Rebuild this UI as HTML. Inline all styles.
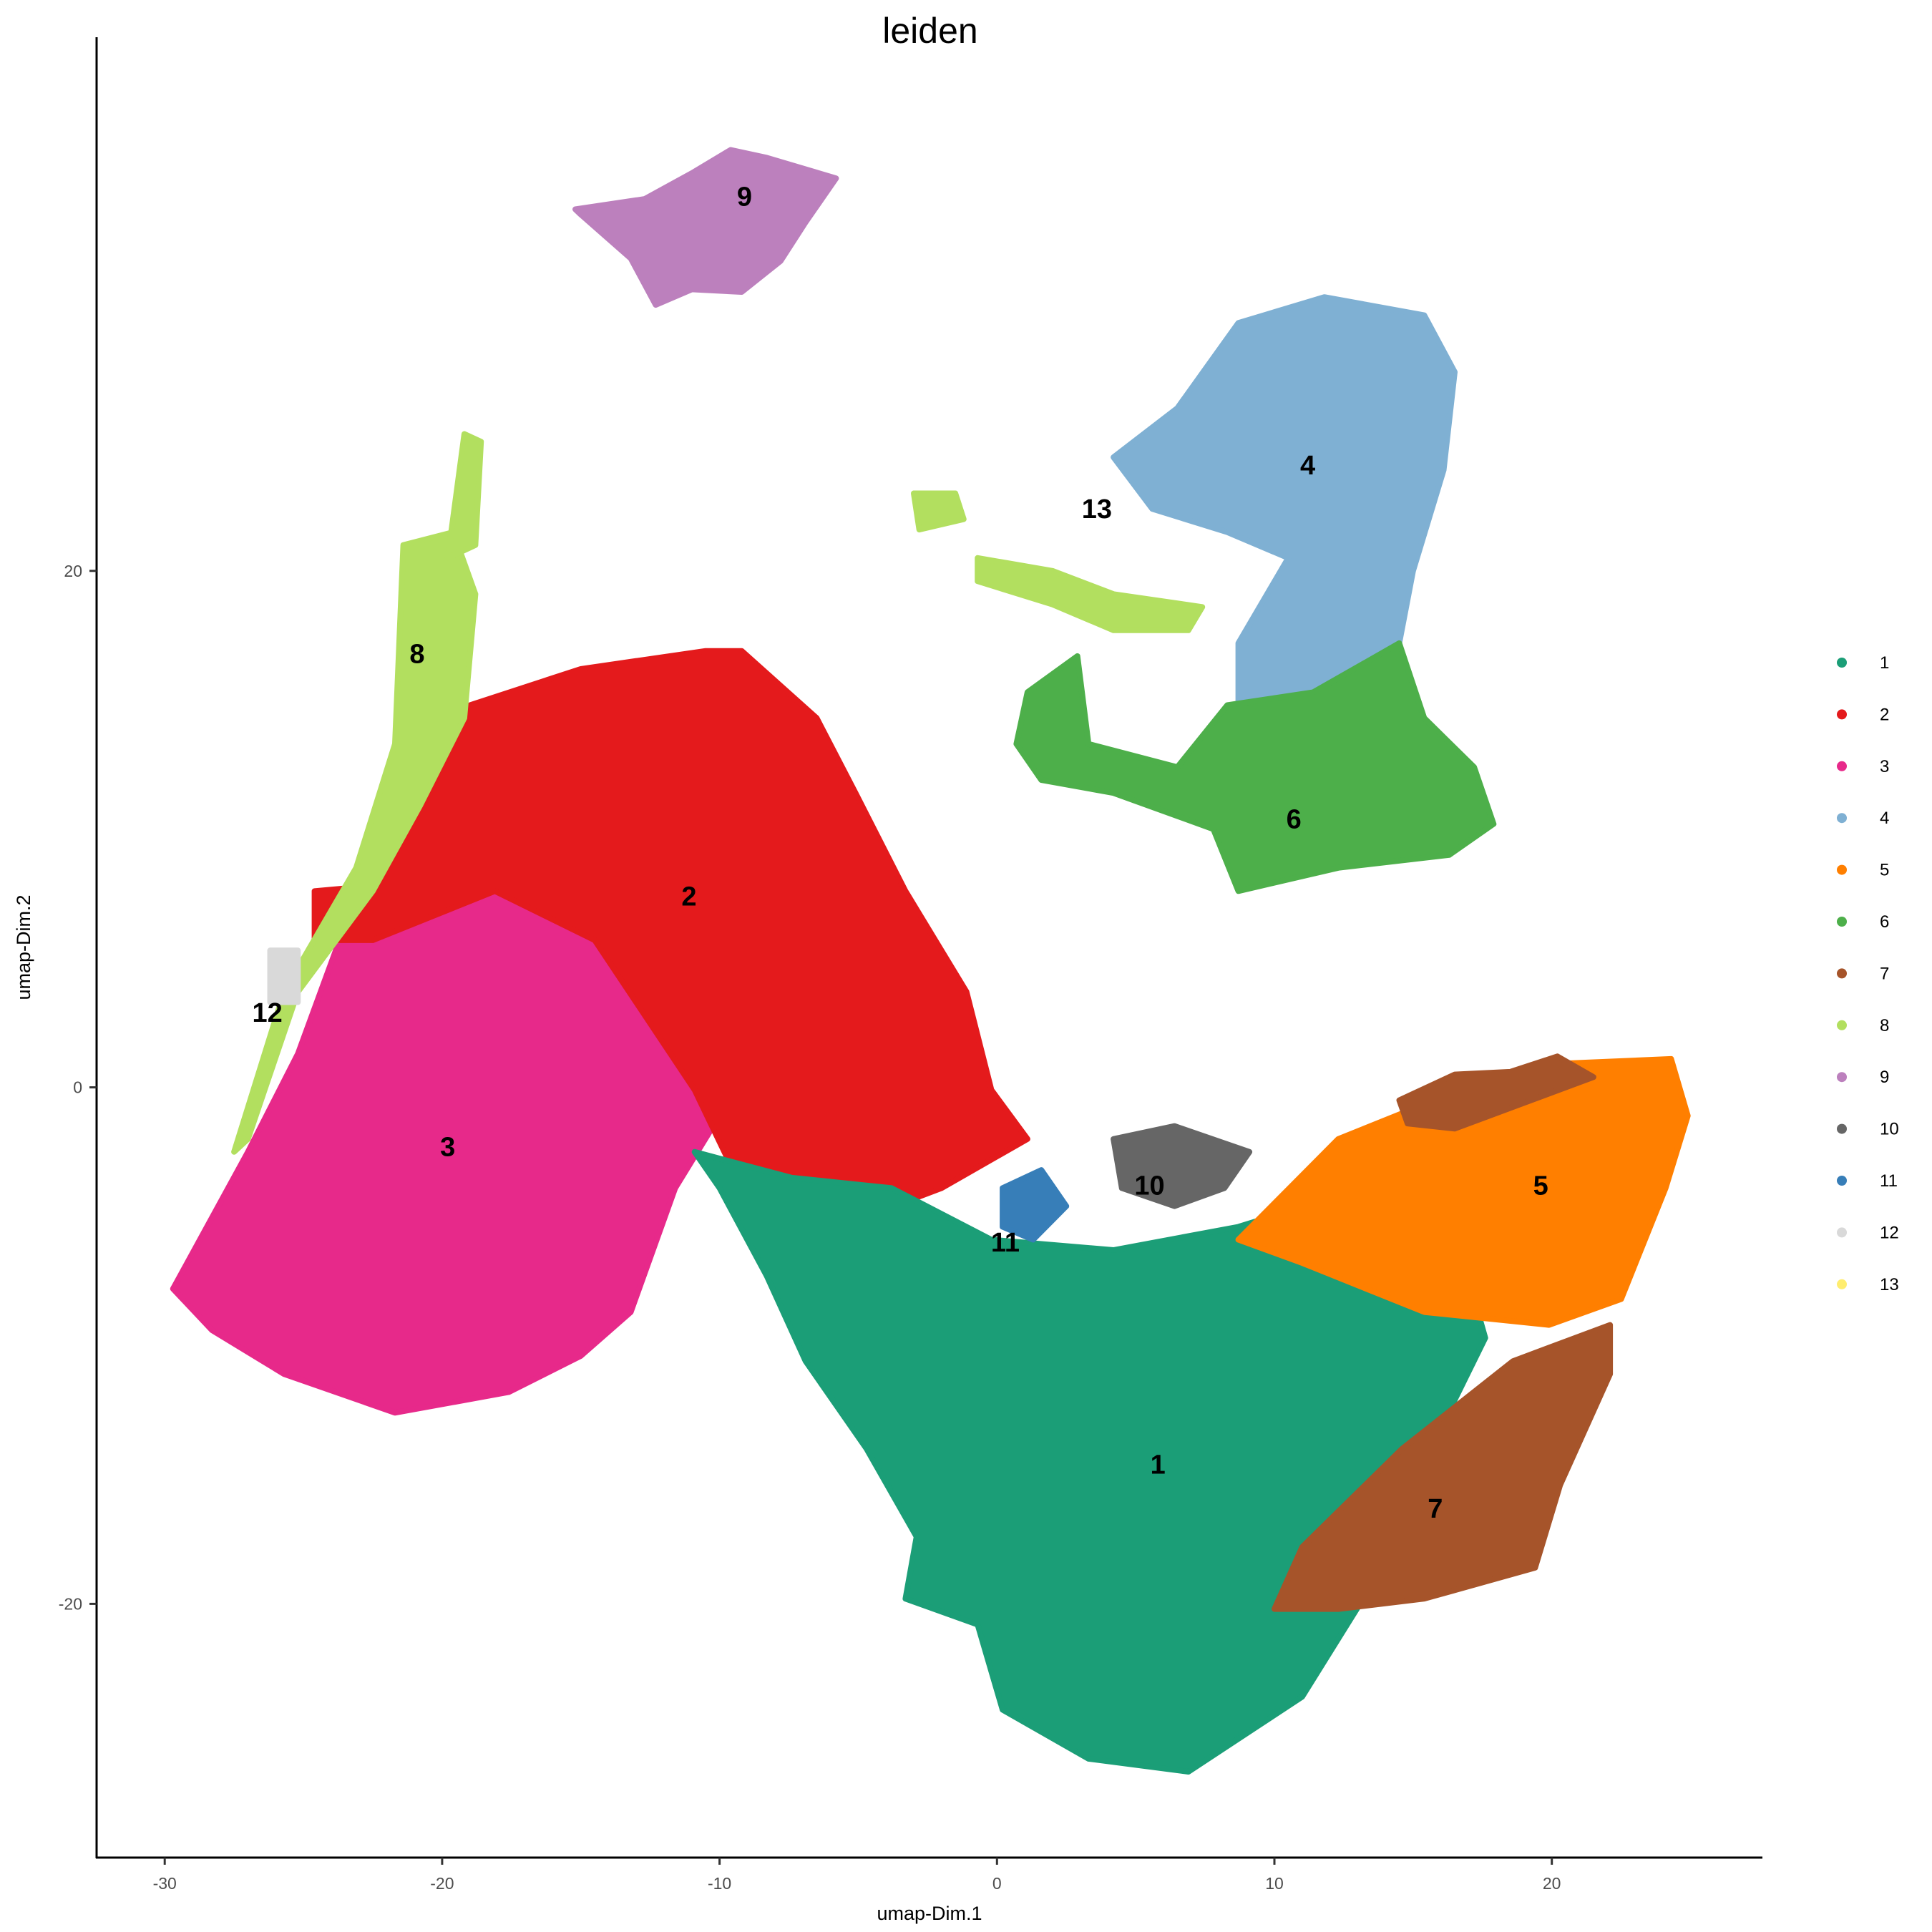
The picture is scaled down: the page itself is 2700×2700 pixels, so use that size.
<!DOCTYPE html>
<html><head><meta charset="utf-8"><style>
html,body{margin:0;padding:0;background:#fff;}
svg{display:block;font-family:"Liberation Sans",sans-serif;}
</style></head><body>
<svg id="chart" width="2700" height="2700" viewBox="0 0 2700 2700" xmlns="http://www.w3.org/2000/svg">
<text x="1300" y="60" font-size="50" text-anchor="middle">leiden</text>
<g id="plot"></g>
<g id="axes"></g>
<g id="legend"></g>
</svg>
<script>
const clusterIds = ["1","2","3","4","5","6","7","8","9","10","11","12","13"];
const clusterColors = ["#1b9e77","#e41a1c","#e7298a","#7fb0d3","#ff7f00","#4daf4a","#a6542a","#b2df5f","#bc80bd","#666666","#377eb8","#d9d9d9","#ffed6f"];
const xTicks = [-30,-20,-10,0,10,20];
const yTicks = [-20,0,20];
const labelX = [5.8,-11.1,-19.8,11.2,19.6,10.7,15.8,-20.9,-9.1,5.5,0.3,-26.3,3.6];
const labelY = [-14.6,7.4,-2.3,24.1,-3.8,10.4,-16.3,16.8,34.5,-3.8,-6.0,2.9,22.4];
// cluster shapes in data units: [clusterIndex, [x,y,...]]
const shape3 = [-29.7,-7.8,-27.0,-2.5,-25.2,1.3,-23.7,5.7,-21.2,9.0,-17.2,12.4,-14.5,12.9,-11.8,5.7,-10.0,-1.1,-11.6,-3.9,-13.2,-8.7,-15.0,-10.4,-17.6,-11.8,-21.7,-12.6,-25.7,-11.1,-28.3,-9.4];
const shape2 = [-24.6,7.6,-22.5,7.8,-19.0,14.8,-15.0,16.2,-10.5,16.9,-9.2,16.9,-6.5,14.3,-5.1,11.4,-3.3,7.6,-1.1,3.7,-0.2,-0.1,1.1,-2.0,-2.0,-3.9,-6.9,-5.9,-9.2,-3.9,-10.9,-0.1,-14.5,5.7,-18.1,7.6,-22.5,5.7,-24.6,5.7];
const shape1 = [-10.9,-2.5,-7.4,-3.5,-3.8,-3.9,-0.2,-5.9,4.2,-6.3,8.7,-5.4,13.2,-3.9,16.7,-6.3,17.6,-9.7,15.4,-14.5,13.2,-19.8,11.0,-23.6,6.9,-26.5,3.3,-26.0,0.2,-24.1,-0.7,-20.8,-3.3,-19.8,-2.9,-17.4,-4.7,-14.0,-6.9,-10.6,-8.3,-7.3,-10.0,-3.9];
const shape5 = [8.7,-5.9,12.3,-2.0,16.7,-0.1,19.9,0.9,24.3,1.1,24.9,-1.1,24.1,-3.9,22.5,-8.2,19.9,-9.2,15.4,-8.7,11.0,-6.8];
const shape7 = [22.1,-9.2,22.1,-11.1,20.3,-15.4,19.4,-18.6,15.4,-19.8,12.3,-20.2,10.0,-20.2,11.0,-17.8,14.6,-14.0,18.6,-10.6];
const shape7b = [14.5,-0.5,16.5,0.5,18.5,0.6,20.2,1.2,21.5,0.4,19.0,-0.6,16.5,-1.6,14.8,-1.4];
const shape4 = [4.2,24.4,6.5,26.3,8.7,29.6,11.8,30.6,15.4,29.9,16.5,27.7,16.1,23.9,15.0,20.0,14.5,17.2,12.3,15.3,8.7,14.3,8.7,17.2,10.5,20.5,8.3,21.5,5.6,22.4];
const shape6 = [1.1,15.3,2.9,16.7,3.3,13.3,6.5,12.4,8.3,14.8,11.4,15.3,14.5,17.2,15.4,14.3,17.2,12.4,17.9,10.2,16.3,9.0,12.3,8.5,8.7,7.6,7.8,10.0,4.2,11.4,1.6,11.9,0.7,13.3];
const shape8 = [-21.4,21.0,-19.6,21.5,-18.8,19.1,-19.2,14.3,-20.8,10.9,-22.5,7.6,-25.2,3.7,-27.0,-2.0,-27.5,-2.5,-25.7,3.7,-23.1,8.5,-21.7,13.3];
const shape8b = [-19.8,20.5,-19.2,25.3,-18.6,25.0,-18.8,21.0];
const shape8c = [-0.7,20.5,2.0,20.0,4.2,19.1,7.4,18.6,6.9,17.7,4.2,17.7,2.0,18.7,-0.7,19.6];
const shape8d = [-3.0,23.0,-1.5,23.0,-1.2,22.0,-2.8,21.6];
const shape9 = [-15.2,34.0,-12.7,34.4,-11.0,35.4,-9.6,36.3,-8.3,36.0,-5.8,35.2,-6.9,33.5,-7.8,32.0,-9.2,30.8,-11.0,30.9,-12.3,30.3,-13.2,32.1,-15.0,33.8];
const shape10 = [4.2,-2.0,6.4,-1.5,9.1,-2.5,8.2,-3.9,6.4,-4.6,4.5,-3.9];
const shape11 = [0.2,-3.9,1.6,-3.2,2.5,-4.6,1.3,-5.9,0.2,-5.4];
const shape12 = [-26.2,5.3,-25.2,5.3,-25.2,3.3,-26.2,3.3];
const shapes = [[2,shape3],[1,shape2],[7,shape8],[7,shape8b],[0,shape1],[4,shape5],[6,shape7],[6,shape7b],[3,shape4],[5,shape6],[7,shape8c],[7,shape8d],[8,shape9],[9,shape10],[10,shape11],[11,shape12]];

const NS="http://www.w3.org/2000/svg";
const xs = v => 1393.3 + 38.77*v;
const ys = v => 1519.6 - 36.09*v;
const plot=document.getElementById('plot');
shapes.forEach(([ci,pts])=>{
  const p=document.createElementNS(NS,'polygon');
  let s=[];
  for(let i=0;i<pts.length;i+=2) s.push(xs(pts[i]).toFixed(1)+','+ys(pts[i+1]).toFixed(1));
  p.setAttribute('points',s.join(' '));
  p.setAttribute('fill',clusterColors[ci]);
  p.setAttribute('stroke',clusterColors[ci]);
  p.setAttribute('stroke-width','8');
  p.setAttribute('stroke-linejoin','round');
  
  
  plot.appendChild(p);
});
clusterIds.forEach((id,i)=>{
  const t=document.createElementNS(NS,'text');
  t.setAttribute('x',xs(labelX[i]));t.setAttribute('y',ys(labelY[i])+13);
  t.setAttribute('font-size','38');t.setAttribute('font-weight','bold');t.setAttribute('text-anchor','middle');
  t.textContent=id;
  
  
  plot.appendChild(t);
});
const axes=document.getElementById('axes');
function line(x1,y1,x2,y2,w,c,name){const l=document.createElementNS(NS,'line');l.setAttribute('x1',x1);l.setAttribute('y1',y1);l.setAttribute('x2',x2);l.setAttribute('y2',y2);l.setAttribute('stroke',c);l.setAttribute('stroke-width',w);


axes.appendChild(l);}
line(135,52,135,2597,3,'#000','y-axis-line');
line(134,2596,2463,2596,3,'#000','x-axis-line');
xTicks.forEach(v=>{line(xs(v),2596,xs(v),2606,3,'#333','x-tick');
 const t=document.createElementNS(NS,'text');t.setAttribute('x',xs(v));t.setAttribute('y',2640);t.setAttribute('font-size','23');t.setAttribute('fill','#4d4d4d');t.setAttribute('text-anchor','middle');t.textContent=v;
 
 
 axes.appendChild(t);});
yTicks.forEach(v=>{line(125,ys(v),135,ys(v),3,'#333','y-tick');
 const t=document.createElementNS(NS,'text');t.setAttribute('x',115);t.setAttribute('y',ys(v)+8);t.setAttribute('font-size','23');t.setAttribute('fill','#4d4d4d');t.setAttribute('text-anchor','end');t.textContent=v;
 
 
 axes.appendChild(t);});
const xt=document.createElementNS(NS,'text');xt.setAttribute('x',1299);xt.setAttribute('y',2683);xt.setAttribute('font-size','27');xt.setAttribute('text-anchor','middle');xt.textContent='umap-Dim.1';


axes.appendChild(xt);
const yt=document.createElementNS(NS,'text');yt.setAttribute('transform','translate(42,1324) rotate(-90)');yt.setAttribute('font-size','27');yt.setAttribute('text-anchor','middle');yt.textContent='umap-Dim.2';


axes.appendChild(yt);
const leg=document.getElementById('legend');
clusterIds.forEach((id,i)=>{
  const y=926+72.4*i;
  const c=document.createElementNS(NS,'circle');c.setAttribute('cx',2574);c.setAttribute('cy',y);c.setAttribute('r',7);c.setAttribute('fill',clusterColors[i]);
  
  
  leg.appendChild(c);
  const t=document.createElementNS(NS,'text');t.setAttribute('x',2627);t.setAttribute('y',y+8);t.setAttribute('font-size','24');t.textContent=id;
  
  
  leg.appendChild(t);
});
</script>
</body></html>
